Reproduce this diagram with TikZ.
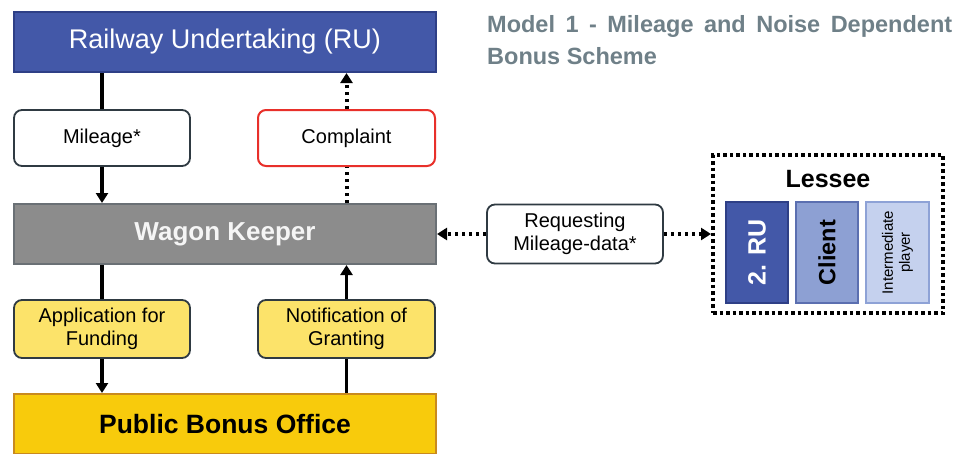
\documentclass[tikz,border=0pt]{standalone}
\usepackage{fontspec}
\setmainfont{Liberation Sans}
\usetikzlibrary{arrows.meta}
\definecolor{rublue}{HTML}{4358A8}
\definecolor{rublueb}{HTML}{2E3F86}
\definecolor{wkgray}{HTML}{8C8C8C}
\definecolor{wkgrayb}{HTML}{6A7075}
\definecolor{lyellow}{HTML}{FCE36A}
\definecolor{gold}{HTML}{F8CB0C}
\definecolor{goldb}{HTML}{C98A1E}
\definecolor{clientf}{HTML}{8DA0D3}
\definecolor{clientb}{HTML}{5B6FB0}
\definecolor{interf}{HTML}{C5D1EE}
\definecolor{interb}{HTML}{8EA2D6}
\definecolor{titlec}{HTML}{6F8088}
\definecolor{outl}{HTML}{2F3A42}
\definecolor{compred}{HTML}{E8302A}
\tikzset{
  bigbox/.style={rectangle, draw, line width=2pt, minimum width=422pt, minimum height=60pt, inner sep=0pt},
  label box/.style={rectangle, rounded corners=8pt, draw=outl, line width=1.8pt, minimum width=176pt, minimum height=56pt, inner sep=0pt, align=center, font=\fontsize{20}{23}\selectfont},
  solidarrow/.style={line width=3.5pt, -{Triangle[width=12pt,length=10pt]}},
  solidline/.style={line width=3.5pt},
  dotarrow/.style={line width=4pt, dash pattern=on 3.5pt off 3.5pt, -{Triangle[width=12pt,length=10pt]}},
  dotline/.style={line width=4pt, dash pattern=on 3.5pt off 3.5pt},
  inner box/.style={rectangle, draw, line width=2pt, minimum width=62pt, minimum height=101pt, inner sep=0pt}
}
\begin{document}
\begin{tikzpicture}[x=1pt,y=-1pt]
\useasboundingbox (0,0) rectangle (969,453);
% big boxes
\node[bigbox, fill=rublue, draw=rublueb, text=white, font=\fontsize{27}{30}\selectfont] (ru) at (225,42) {Railway Undertaking (RU)};
\node[bigbox, fill=wkgray, draw=wkgrayb, text=white!92!gray, font=\bfseries\fontsize{26}{30}\selectfont] (wk) at (225,234) {Wagon Keeper};
\node[bigbox, fill=gold, draw=goldb, minimum height=60pt, font=\bfseries\fontsize{26.5}{30}\selectfont] (pbo) at (225,424) {Public Bonus Office};
% label boxes
\node[label box, fill=white] (mil) at (102,138) {Mileage*};
\node[label box, fill=white, draw=compred, line width=2pt, minimum width=177pt] (comp) at (346.5,138) {Complaint};
\node[label box, fill=lyellow, minimum height=58pt] (app) at (102,329) {Application for\\Funding};
\node[label box, fill=lyellow, minimum height=58pt, minimum width=177pt] (notif) at (346.5,329) {Notification of\\Granting};
\node[label box, fill=white, minimum height=59pt] (req) at (575,234) {Requesting\\Mileage-data*};
% lessee
\node[rectangle, draw=black, line width=4pt, dash pattern=on 3.5pt off 3pt, minimum width=230pt, minimum height=158pt, inner sep=0pt] (les) at (828,234) {};
\node[font=\bfseries\fontsize{25}{28}\selectfont, anchor=base] (lestxt) at (828,187) {Lessee};
\node[inner box, fill=rublue, draw=rublueb] (ru2) at (757,252.5) {};
\node[text=white, rotate=90, font=\bfseries\fontsize{25}{28}\selectfont] (ru2t) at (ru2.center) {2. RU};
\node[inner box, fill=clientf, draw=clientb] (cli) at (827,252.5) {};
\node[rotate=90, font=\bfseries\fontsize{23.5}{28}\selectfont] (clit) at (cli.center) {Client};
\node[inner box, fill=interf, draw=interb, minimum width=63pt] (int) at (897.5,252.5) {};
\node[rotate=90, align=center, font=\fontsize{15}{17}\selectfont] (intt) at (int.center) {Intermediate\\player};
% title
\node[anchor=base west, inner sep=0pt, text=titlec, font=\bfseries\fontsize{23.5}{28}\selectfont] (t1) at (487,32) {\makebox[465pt][s]{Model 1 - Mileage and Noise Dependent}};
\node[anchor=base west, inner sep=0pt, text=titlec, font=\bfseries\fontsize{23.5}{28}\selectfont] (t2) at (487,64) {Bonus Scheme};
% connectors left column
\draw[solidline] (ru.south -| mil.north) -- (mil.north);
\draw[solidarrow] (mil.south) -- (wk.north -| mil.south);
\draw[solidline] (wk.south -| app.north) -- (app.north);
\draw[solidarrow] (app.south) -- (pbo.north -| app.south);
% right column
\draw[dotline] (wk.north -| comp.south) -- (comp.south);
\draw[dotarrow] (comp.north) -- (ru.south -| comp.north);
\draw[solidline] (pbo.north -| notif.south) -- (notif.south);
\draw[solidarrow] (notif.north) -- (wk.south -| notif.north);
% requesting
\draw[dotarrow] (req.west) -- (wk.east);
\draw[dotarrow] (req.east) -- (les.west);
\end{tikzpicture}
\end{document}
